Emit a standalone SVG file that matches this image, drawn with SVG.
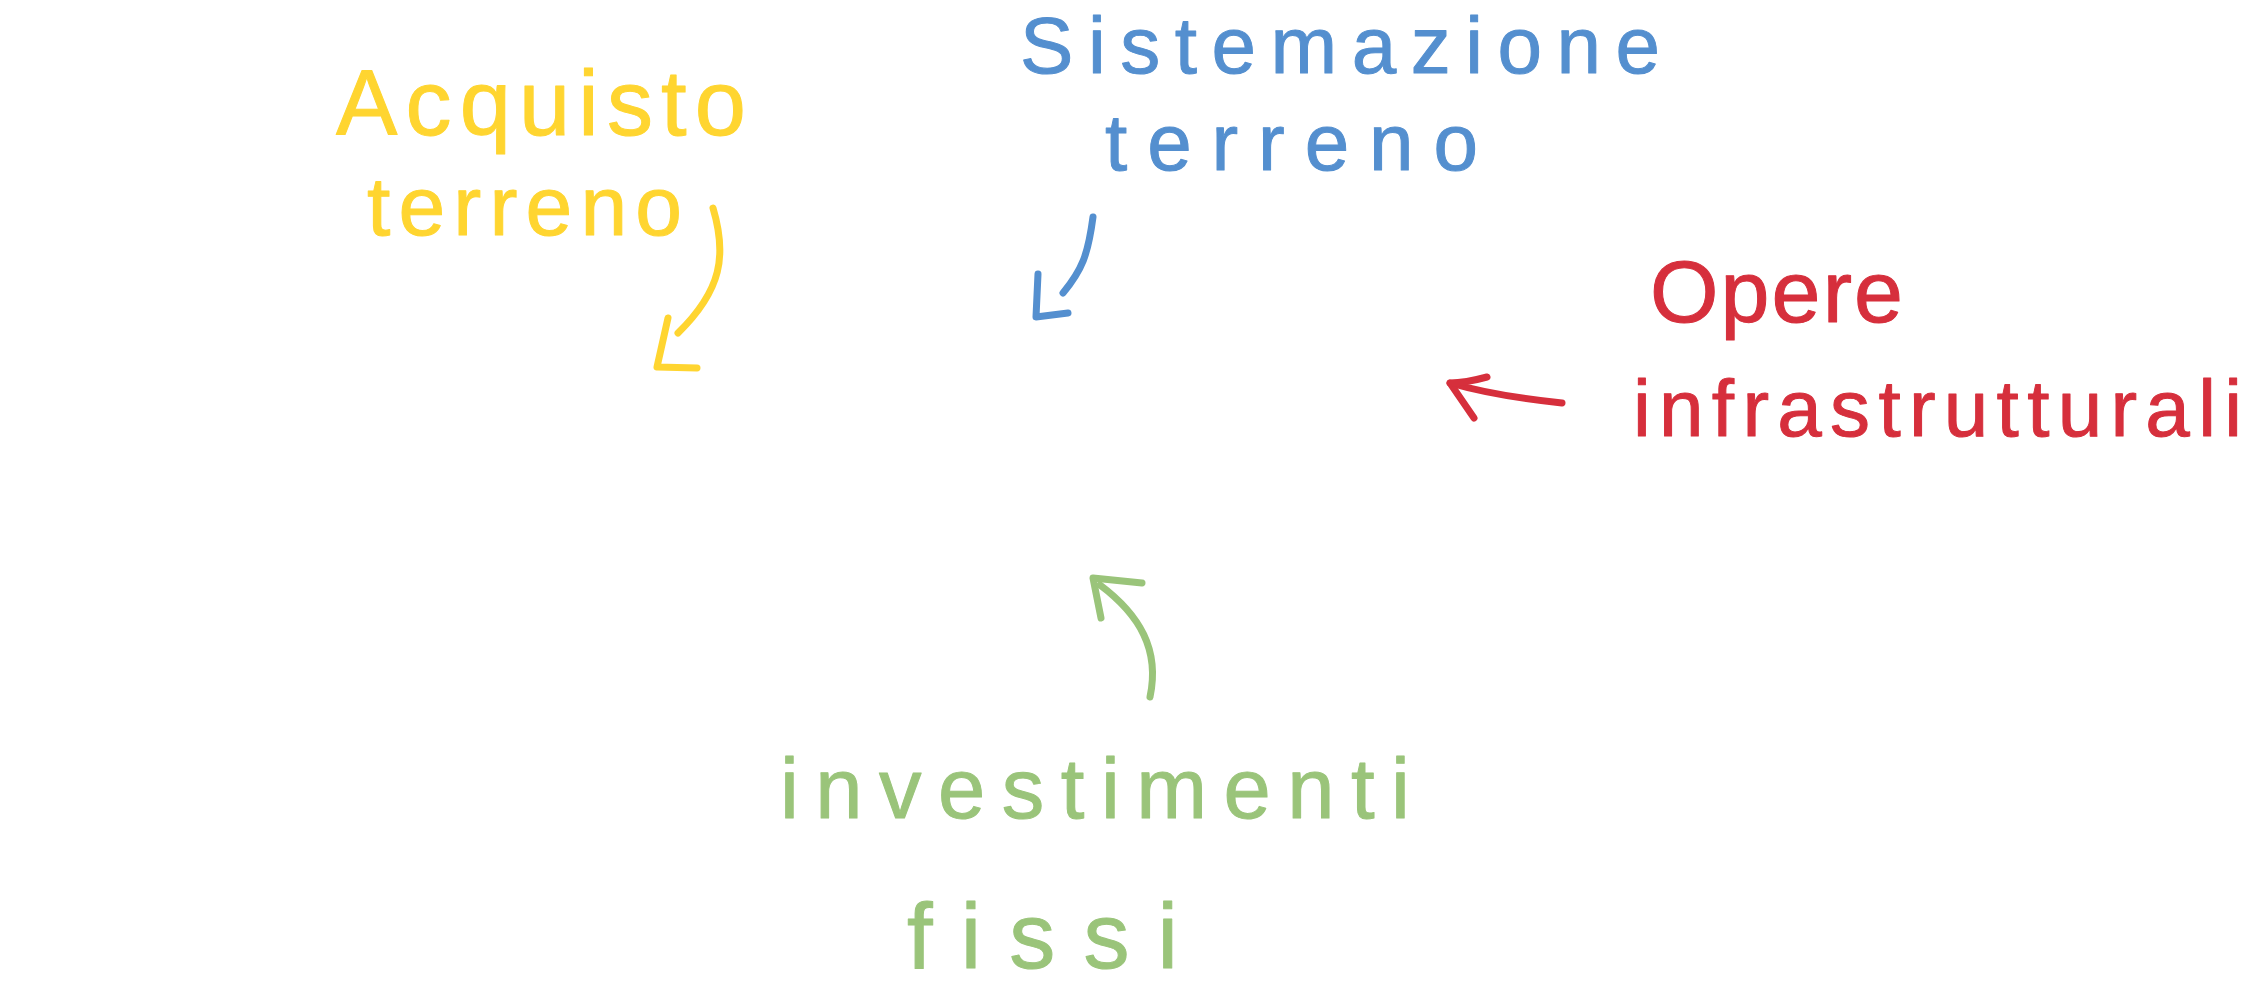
<svg xmlns="http://www.w3.org/2000/svg" width="2250" height="1000" viewBox="0 0 2250 1000">
<style>
text { font-family: "Liberation Sans", "DejaVu Sans", sans-serif; stroke-linejoin: round; }
.y { fill: #FFD530; stroke: #FFD530; stroke-width: 1; }
.b { fill: #548FCF; stroke: #548FCF; stroke-width: 1; }
.r { fill: #D62F3C; stroke: #D62F3C; stroke-width: 1; }
.g { fill: #9AC47A; stroke: #9AC47A; stroke-width: 1; }
.a { fill: none; stroke-width: 7; stroke-linecap: round; stroke-linejoin: round; }
.ay { stroke: #FFD530; }
.ab { stroke: #548FCF; }
.ar { stroke: #D62F3C; }
.ag { stroke: #9AC47A; }
</style>
<rect width="2250" height="1000" fill="#FFFFFF"/>
<g id="acquisto-terreno">
<text class="y" x="336" y="135" font-size="92" textLength="410" lengthAdjust="spacing">Acquisto</text>
<text class="y" x="367" y="235" font-size="84" textLength="315" lengthAdjust="spacing">terreno</text>
</g>
<g id="sistemazione-terreno">
<text class="b" x="1020" y="73" font-size="80" textLength="640" lengthAdjust="spacing">Sistemazione</text>
<text class="b" x="1105" y="170" font-size="80" textLength="373" lengthAdjust="spacing">terreno</text>
</g>
<g id="opere-infrastrutturali">
<text class="r" x="1650" y="322" font-size="88" textLength="253" lengthAdjust="spacing">Opere</text>
<text class="r" x="1633" y="436" font-size="80" textLength="609" lengthAdjust="spacing">infrastrutturali</text>
</g>
<g id="investimenti-fissi">
<text class="g" x="780" y="818" font-size="85" textLength="630" lengthAdjust="spacing">investimenti</text>
<text class="g" x="907" y="968" font-size="92" textLength="271" lengthAdjust="spacing">fissi</text>
</g>
<g id="connectors">
<path class="a ay" d="M713,208 C727,255 722,290 678,333"/>
<path class="a ay" d="M668,318 L657,367 L697,368"/>
<path class="a ab" d="M1093,217 C1088,255 1082,270 1063,293"/>
<path class="a ab" d="M1038,274 L1036,317 L1068,313"/>
<path class="a ar" d="M1562,403 Q1495,396 1450,383"/>
<path class="a ar" d="M1487,377 Q1465,383 1450,383 L1474,418"/>
<path class="a ag" d="M1150,697 C1160,650 1140,615 1100,585"/>
<path class="a ag" d="M1142,583 L1093,578 L1101,618"/>
</g>
</svg>
